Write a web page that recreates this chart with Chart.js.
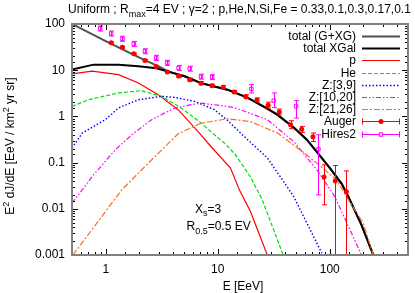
<!DOCTYPE html>
<html>
<head>
<meta charset="utf-8">
<script src="https://cdn.jsdelivr.net/npm/chart.js@4.4.1/dist/chart.umd.min.js"></script>
<style>
html, body { margin: 0; padding: 0; background: #fff; }
#wrap { width: 415px; height: 293px; }
</style>
</head>
<body>
<div id="wrap"><canvas id="spectrumChart" width="415" height="293"></canvas></div>
<script>
// model curves (E in EeV, flux = E^2 dJ/dE)
const gxgE = [0.5, 1.0, 2.0, 3.0, 3.6, 5.07, 7.1, 12.2, 18.4, 27.7, 34, 48, 62.5, 76.7, 100, 128, 147, 192, 245];
const gxgFlux = [100, 42.8, 18.7, 11.9, 9.4, 7.38, 5.25, 3.79, 2.55, 1.47, 1.09, 0.569, 0.313, 0.171, 0.077, 0.0347, 0.0181, 0.00448, 0.001];
const xgalE = [0.5, 0.78, 1.3, 1.96, 2.84, 3.6, 5.07, 7.1, 12.2, 18.4, 27.7, 34, 48, 62.5, 76.7, 100, 128, 147, 192, 245];
const xgalFlux = [10.3, 13.2, 13.2, 12.2, 11.0, 9.3, 7.38, 5.25, 3.79, 2.55, 1.47, 1.09, 0.569, 0.313, 0.171, 0.077, 0.0347, 0.0181, 0.00448, 0.001];
const protonE = [0.5, 0.757, 1.3, 1.96, 2.94, 4.43, 6.65, 8.7, 13.0, 15.6, 19.6, 27.7];
const protonFlux = [8.3, 9.5, 8.03, 5.3, 2.96, 1.40, 0.473, 0.223, 0.076, 0.0257, 0.0087, 0.001];
const heliumE = [0.5, 0.707, 1.3, 2.08, 3.15, 4.73, 7.11, 9.35, 11.8, 14.4, 19.6, 25, 38.4];
const heliumFlux = [1.65, 2.30, 3.22, 3.6, 2.72, 1.52, 0.72, 0.40, 0.25, 0.148, 0.049, 0.0156, 0.001];
const cnoE = [0.5, 0.617, 0.994, 1.30, 1.96, 3.15, 4.14, 6.22, 9.35, 12.3, 17.2, 27.7, 36.1, 47.7, 85];
const cnoFlux = [0.206, 0.436, 0.85, 1.52, 2.30, 2.72, 2.58, 2.11, 1.40, 0.81, 0.368, 0.127, 0.050, 0.0184, 0.0011];
const midE = [0.5, 0.617, 0.757, 1.22, 1.71, 2.57, 3.38, 4.14, 6.22, 7.1, 10, 14.1, 27.7, 48, 76.7, 111, 192];
const midFlux = [0.0132, 0.0257, 0.0499, 0.19, 0.40, 0.85, 1.19, 1.52, 1.85, 1.93, 1.75, 1.55, 0.85, 0.282, 0.07, 0.0184, 0.001];
const heavyE = [0.51, 1.39, 2.4, 4.43, 7.07, 12.3, 19.6, 34, 54.3, 76.7, 115, 141, 199, 245];
const heavyFlux = [0.001, 0.0257, 0.0975, 0.42, 0.71, 0.89, 0.77, 0.44, 0.19, 0.0975, 0.0424, 0.0184, 0.0049, 0.001];

// measured spectra
const augerE = [1.12, 1.41, 1.78, 2.24, 2.82, 3.55, 4.47, 5.62, 7.08, 8.91, 11.2, 14.1, 17.8, 22.4, 28.2, 35.5, 44.7, 56.2, 70.8, 89.1, 112, 141];
const augerFlux = [39.1, 31.4, 22.6, 16.2, 12.0, 9.18, 7.45, 6.25, 5.25, 4.63, 4.30, 3.38, 2.67, 2.27, 1.75, 1.24, 0.661, 0.527, 0.363, 0.049, 0.040, 0.0235];
const augerLo = [37.2, 29.9, 21.5, 15.4, 11.4, 8.74, 6.91, 5.80, 4.87, 4.29, 3.99, 3.14, 2.42, 2.05, 1.51, 1.07, 0.542, 0.45, 0.287, 0.0122, 0.0004, 0.0004];
const augerHi = [41.1, 33.0, 23.7, 17.0, 12.6, 9.64, 8.03, 6.74, 5.66, 4.99, 4.64, 3.64, 2.95, 2.51, 2.03, 1.44, 0.806, 0.607, 0.437, 0.0895, 0.0865, 0.066];
const hiresE = [0.891, 1.12, 1.41, 1.78, 2.24, 2.82, 3.55, 4.47, 5.62, 7.08, 8.91, 20.0, 31.6, 50.1, 79.4];
const hiresFlux = [79.8, 62.2, 47.8, 37.2, 25.7, 18.5, 14.4, 11.2, 10.8, 7.26, 7.08, 3.93, 2.19, 1.65, 0.196];
const hiresLo = [70.4, 54.9, 42.2, 32.8, 22.7, 16.3, 12.7, 9.9, 9.5, 6.4, 6.25, 3.22, 1.55, 0.92, 0.020];
const hiresHi = [90.4, 70.5, 54.2, 42.1, 29.1, 21.0, 16.3, 12.7, 12.2, 8.2, 8.0, 4.87, 3.22, 2.19, 0.40];

const fontFam = '"Liberation Sans", Arial, Helvetica, sans-serif';
Chart.defaults.font.family = fontFam;
Chart.defaults.font.size = 12;
Chart.defaults.color = '#000';

const pts = (xs, ys) => xs.map((x, i) => ({ x: x, y: ys[i] }));
const isDecade = v => { const l = Math.log10(v); return Math.abs(l - Math.round(l)) < 1e-6; };

const curves = [
    { label: 'total (G+XG)', d: pts(gxgE, gxgFlux), color: '#505050', width: 2, dash: [] },
    { label: 'total XGal', d: pts(xgalE, xgalFlux), color: '#000000', width: 2, dash: [] },
    { label: 'p', d: pts(protonE, protonFlux), color: '#ff0000', width: 1.2, dash: [] },
    { label: 'He', d: pts(heliumE, heliumFlux), color: '#00e000', width: 1.2, dash: [4, 2] },
    { label: 'Z:[3,9]', d: pts(cnoE, cnoFlux), color: '#0000ff', width: 1.4, dash: [1.5, 2] },
    { label: 'Z:[10,20]', d: pts(midE, midFlux), color: '#ff00ff', width: 1.2, dash: [5, 2, 1.5, 2, 1.5, 2] },
    { label: 'Z:[21,26]', d: pts(heavyE, heavyFlux), color: '#ff6a20', width: 1.2, dash: [6, 2, 2, 2] }
];

const datasets = curves.map((c, i) => ({
    label: c.label,
    data: c.d,
    borderColor: c.color,
    borderWidth: c.width,
    borderDash: c.dash,
    pointRadius: 0,
    tension: 0,
    fill: false,
    order: 20 - i
}));
datasets.push({
    label: 'Auger', data: pts(augerE, augerFlux), errLo: augerLo, errHi: augerHi,
    showLine: false, pointStyle: 'circle', pointRadius: 2.5,
    backgroundColor: '#ff0000', borderColor: '#ff0000', borderWidth: 0, order: 2
});
datasets.push({
    label: 'Hires2', data: pts(hiresE, hiresFlux), errLo: hiresLo, errHi: hiresHi,
    showLine: false, pointStyle: 'rect', pointRadius: 2.4,
    backgroundColor: 'rgba(0,0,0,0)', borderColor: '#ff00ff', borderWidth: 1, order: 1
});

function drawRich(ctx, parts, x, y, size) {
    let cx = x;
    parts.forEach(p => {
        ctx.font = (p[1] ? size * 0.75 : size) + 'px ' + fontFam;
        const dy = p[1] === -1 ? size * 0.3 : (p[1] === 1 ? -size * 0.4 : 0);
        ctx.fillText(p[0], cx, y + dy);
        cx += ctx.measureText(p[0]).width;
    });
    return cx - x;
}
function richWidth(ctx, parts, size) {
    let w = 0;
    parts.forEach(p => {
        ctx.font = (p[1] ? size * 0.75 : size) + 'px ' + fontFam;
        w += ctx.measureText(p[0]).width;
    });
    return w;
}

const errorBars = {
    id: 'errorBars',
    afterDatasetsDraw(chart) {
        const { ctx, chartArea: a, scales: { x, y } } = chart;
        ctx.save();
        ctx.beginPath();
        ctx.rect(a.left, a.top, a.right - a.left, a.bottom - a.top);
        ctx.clip();
        chart.data.datasets.forEach(ds => {
            if (!ds.errLo) return;
            ctx.strokeStyle = ds.borderColor;
            ctx.lineWidth = 1;
            ds.data.forEach((p, i) => {
                const px = Math.round(x.getPixelForValue(p.x)) + 0.5;
                const y0 = y.getPixelForValue(ds.errLo[i]);
                const y1 = y.getPixelForValue(ds.errHi[i]);
                ctx.beginPath();
                ctx.moveTo(px, y0); ctx.lineTo(px, y1);
                ctx.moveTo(px - 2.5, y1); ctx.lineTo(px + 2.5, y1);
                if (y0 < a.bottom) { ctx.moveTo(px - 2.5, y0); ctx.lineTo(px + 2.5, y0); }
                ctx.stroke();
            });
        });
        ctx.restore();
    }
};

const decorations = {
    id: 'decorations',
    afterDraw(chart) {
        const { ctx, chartArea: a, scales: { x, y } } = chart;
        ctx.save();
        // inward ticks on all four sides
        ctx.strokeStyle = '#000';
        ctx.lineWidth = 1;
        ctx.beginPath();
        x.ticks.forEach(t => {
            const px = Math.round(x.getPixelForValue(t.value)) + 0.5;
            if (px <= a.left + 1 || px >= a.right - 1) return;
            const len = isDecade(t.value) ? 6 : 3;
            ctx.moveTo(px, a.bottom); ctx.lineTo(px, a.bottom - len);
            ctx.moveTo(px, a.top); ctx.lineTo(px, a.top + len);
        });
        y.ticks.forEach(t => {
            const py = Math.round(y.getPixelForValue(t.value)) + 0.5;
            if (py <= a.top + 1 || py >= a.bottom - 1) return;
            const len = isDecade(t.value) ? 6 : 3;
            ctx.moveTo(a.left, py); ctx.lineTo(a.left + len, py);
            ctx.moveTo(a.right, py); ctx.lineTo(a.right - len, py);
        });
        ctx.stroke();
        ctx.strokeStyle = '#808080';
        ctx.lineWidth = 2;
        ctx.strokeRect(a.left, a.top, a.right - a.left, a.bottom - a.top);

        // texts
        ctx.fillStyle = '#000';
        ctx.textAlign = 'left';
        ctx.textBaseline = 'alphabetic';
        drawRich(ctx, [['Uniform ; R', 0], ['max', -1], ['=4 EV ; \u03b3=2 ; p,He,N,Si,Fe = 0.33,0.1,0.3,0.17,0.1', 0]], 68, 13, 12);
        drawRich(ctx, [['X', 0], ['s', -1], ['=3', 0]], 195, 212.5, 12);
        drawRich(ctx, [['R', 0], ['0.5', -1], ['=0.5 EV', 0]], 186.5, 230, 12);
        ctx.font = '12px ' + fontFam;
        ctx.textAlign = 'center';
        ctx.fillText('E [EeV]', 243, 290);
        ctx.textAlign = 'left';
        const yTitle = [['E', 0], ['2', 1], [' dJ/dE [EeV / km', 0], ['2', 1], [' yr sr]', 0]];
        const w = richWidth(ctx, yTitle, 12);
        ctx.save();
        ctx.translate(14, 146);
        ctx.rotate(-Math.PI / 2);
        drawRich(ctx, yTitle, -w / 2, 0, 12);
        ctx.restore();

        // key
        const rowY0 = 36, rowH = 12.2, textRight = 356, s0 = 362, s1 = 400;
        ctx.textBaseline = 'middle';
        ctx.font = '12px ' + fontFam;
        const byLabel = {};
        chart.data.datasets.forEach(ds => { byLabel[ds.label] = ds; });
        const keyOrder = ['total (G+XG)', 'total XGal', 'p', 'He', 'Z:[3,9]', 'Z:[10,20]', 'Z:[21,26]', 'Auger', 'Hires2'];
        keyOrder.forEach((lab, i) => {
            const ds = byLabel[lab];
            const ry = Math.round(rowY0 + i * rowH) + 0.5;
            ctx.fillStyle = '#000';
            ctx.textAlign = 'right';
            ctx.fillText(lab, textRight, ry);
            ctx.strokeStyle = ds.borderColor;
            ctx.lineWidth = ds.errLo ? 1 : ds.borderWidth;
            ctx.setLineDash(ds.borderDash || []);
            ctx.beginPath();
            ctx.moveTo(s0, ry); ctx.lineTo(s1, ry);
            ctx.stroke();
            ctx.setLineDash([]);
            if (ds.errLo) {
                ctx.beginPath();
                ctx.moveTo(s0 + 0.5, ry - 3); ctx.lineTo(s0 + 0.5, ry + 3);
                ctx.moveTo(s1 - 0.5, ry - 3); ctx.lineTo(s1 - 0.5, ry + 3);
                ctx.stroke();
                const cx = (s0 + s1) / 2;
                if (ds.pointStyle === 'circle') {
                    ctx.fillStyle = ds.backgroundColor;
                    ctx.beginPath(); ctx.arc(cx, ry, 2.5, 0, Math.PI * 2); ctx.fill();
                } else {
                    ctx.fillStyle = '#fff';
                    ctx.fillRect(cx - 1.7, ry - 1.7, 3.4, 3.4);
                    ctx.strokeRect(cx - 1.7, ry - 1.7, 3.4, 3.4);
                }
            }
        });
        ctx.restore();
    }
};

const ctx = document.getElementById('spectrumChart').getContext('2d');
const spectrumChart = new Chart(ctx, {
    type: 'line',
    data: { datasets: datasets },
    plugins: [errorBars, decorations],
    options: {
        responsive: false,
        animation: false,
        events: [],
        layout: { padding: { top: 24, right: 4, bottom: 0, left: 0 } },
        plugins: {
            legend: { display: false },
            tooltip: { enabled: false }
        },
        scales: {
            x: {
                type: 'logarithmic',
                min: 0.5,
                max: 500,
                grid: { display: false, drawTicks: false },
                border: { display: false },
                ticks: {
                    autoSkip: false,
                    maxRotation: 0,
                    padding: 7,
                    callback: v => isDecade(v) ? String(Number(v.toPrecision(3))) : ''
                },
                afterFit: s => { s.height = 38; }
            },
            y: {
                type: 'logarithmic',
                min: 0.001,
                max: 100,
                grid: { display: false, drawTicks: false },
                border: { display: false },
                ticks: {
                    autoSkip: false,
                    padding: 7,
                    callback: v => isDecade(v) ? String(Number(v.toPrecision(3))) : ''
                },
                afterFit: s => { s.width = 72; }
            }
        }
    }
});
</script>
</body>
</html>
